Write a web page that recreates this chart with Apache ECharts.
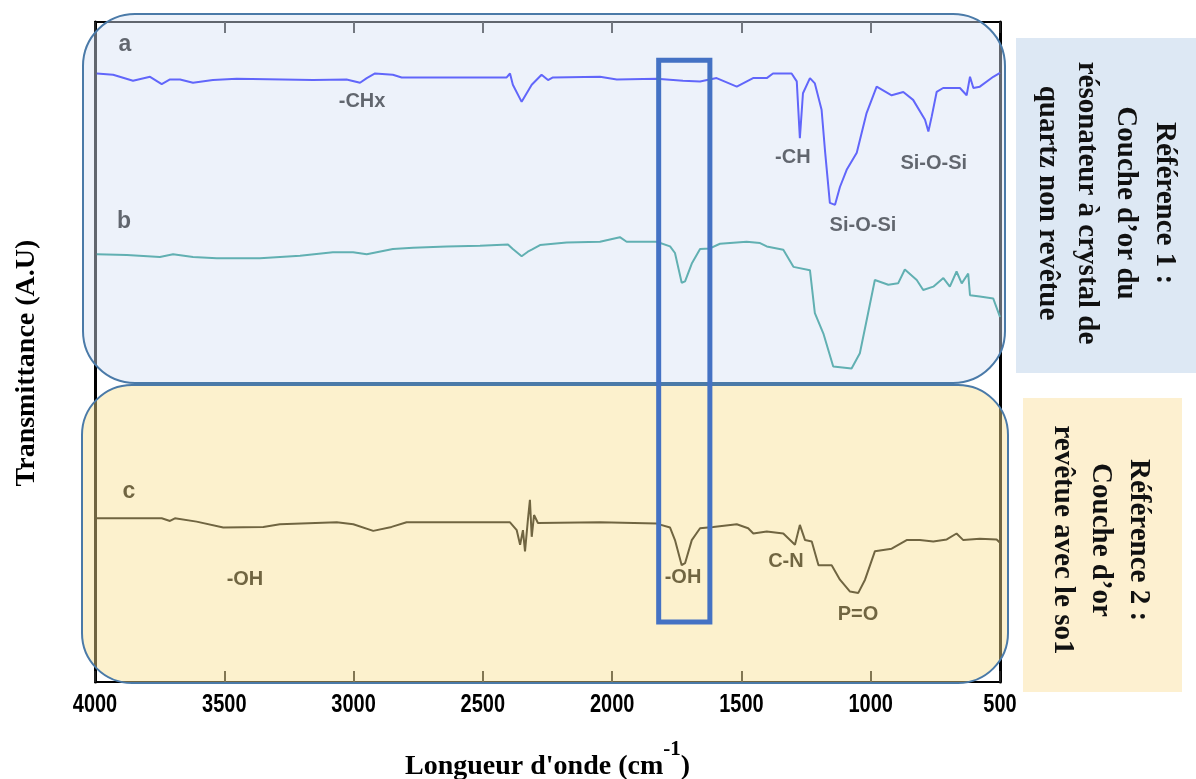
<!DOCTYPE html>
<html><head><meta charset="utf-8">
<script src="https://cdn.jsdelivr.net/npm/echarts@6/dist/echarts.min.js"></script>
<style>html,body{margin:0;padding:0;background:#fff}#c{width:1196px;height:779px}</style>
</head><body><div id="c"></div><script>
// ---- data (wavenumber cm-1, transmittance A.U.) ----
const xTicks = [4000, 3500, 3000, 2500, 2000, 1500, 1000, 500];
const wnA = [3993,3930,3853,3787,3742,3710,3671,3621,3544,3452,3157,3027,2975,2949,2917,2848,2814,2408,2395,2384,2350,2311,2273,2248,2229,2047,1982,1828,1726,1660,1596,1518,1455,1402,1378,1306,1286,1274,1267,1262,1235,1216,1190,1177,1158,1138,1119,1093,1054,1016,977,919,874,836,790,777,764,745,720,655,629,616,603,578,526,500];
const tA  = [92.2,92.0,91.1,91.7,90.6,91.3,91.3,90.8,91.2,91.4,91.2,91.3,90.8,91.5,92.2,92.0,91.6,91.6,92.2,90.5,87.9,90.5,92.0,91.2,91.6,91.7,91.3,91.4,91.1,91.0,91.5,90.2,91.5,91.5,92.2,92.2,91.0,82.4,82.4,89.2,91.5,90.7,86.7,80.6,72.6,72.3,75.0,77.6,80.2,86.2,90.2,88.9,89.4,88.2,85.2,83.4,85.7,89.4,90.0,90.0,88.9,91.7,90.0,90.2,91.7,92.3];
const wnB = [3993,3877,3749,3698,3621,3529,3362,3207,3080,3002,2949,2848,2770,2640,2511,2403,2384,2350,2326,2311,2279,2176,2047,1970,1944,1828,1776,1757,1731,1718,1692,1660,1622,1583,1480,1428,1402,1338,1299,1235,1216,1183,1145,1074,1042,1010,984,932,894,868,822,797,758,719,694,668,648,623,616,578,526,500];
const tB  = [64.8,64.7,64.4,64.8,64.4,64.2,64.2,64.6,65.1,65.1,64.8,65.6,65.8,66.0,66.1,66.3,65.6,64.5,65.2,65.5,66.2,66.6,66.7,67.4,66.7,66.7,66.0,65.0,60.5,60.7,63.4,65.6,65.7,66.4,66.7,66.5,66.0,65.5,62.9,62.4,55.9,52.8,47.8,47.5,49.8,55.9,60.9,60.2,60.4,62.5,60.9,59.4,59.9,61.2,59.9,62.2,60.4,61.9,58.6,58.4,58.1,55.3];
const wnC = [3993,3742,3710,3691,3607,3504,3349,3285,3065,3001,2924,2853,2795,2395,2369,2356,2345,2337,2326,2318,2311,2302,2287,2047,1828,1776,1757,1731,1718,1692,1660,1609,1518,1474,1454,1402,1338,1293,1274,1254,1228,1202,1151,1119,1080,1048,1022,984,919,861,810,758,706,668,642,578,513,500];
const tC  = [24.8,24.8,24.4,24.8,24.3,23.4,23.5,23.9,24.2,23.9,22.9,23.5,24.2,24.2,23.0,20.8,23.0,19.8,24.5,27.6,22.0,25.3,24.1,24.2,24.0,23.4,21.5,17.7,18.0,21.5,23.3,23.5,23.9,23.3,22.5,22.8,22.5,20.8,23.8,21.5,21.3,17.7,17.7,15.5,13.7,13.5,15.5,19.8,20.2,21.5,21.5,21.3,21.6,22.5,21.5,21.7,21.6,21.1];
const labelTexts = ['a','b','c','-CHx','-CH','Si-O-Si','Si-O-Si','-OH','-OH','C-N','P=O'];
const labelWn    = [3884,3888,3869,2967,1301,756,1030,3420,1726,1328,1049];
const labelT     = [96.5,69.7,28.8,87.9,79.5,78.5,69.1,15.5,15.8,18.3,10.3];
const highlightWn = [1820, 1622];
const highlightT  = [94.2, 9.1];
const box1Text = 'Référence 1 :\nCouche d’or du\nrésonateur à crystal de\nquartz non revêtue';
const box2Text = 'Référence 2 :\nCouche d’or\nrevêtue avec le so1';
const yTitle = 'Transmittance (A.U)';

const zip = (w, t) => w.map((v, i) => [v, t[i]]);
const chart = echarts.init(document.getElementById('c'));
const axisCommon = {
  type: 'value', min: 500, max: 4000, interval: 500, inverse: true,
  splitLine: {show: false},
  axisLabel: {show: false},
  axisLine: {show: true, onZero: false, lineStyle: {color: '#000', width: 2}},
  axisTick: {show: true, inside: true, length: 11, lineStyle: {color: '#222', width: 2}}
};
chart.setOption({
  animation: false,
  grid: {left: 95, right: 196, top: 22, bottom: 97, containLabel: false, outerBoundsMode: 'none'},
  xAxis: [
    Object.assign({}, axisCommon, {position: 'bottom',
      name: '{a|Longueur d\'onde (cm}{s|-1}{a|)}', nameLocation: 'middle', nameGap: 57,
      nameTextStyle: {rich: {
        a: {fontFamily: '"Liberation Serif", "Times New Roman", serif', fontWeight: 'bold', fontSize: 28, color: '#000', lineHeight: 42, verticalAlign: 'bottom'},
        s: {fontFamily: '"Liberation Serif", "Times New Roman", serif', fontWeight: 'bold', fontSize: 21, color: '#000', lineHeight: 42, verticalAlign: 'top'}
      }}
    }),
    Object.assign({}, axisCommon, {position: 'top'})
  ],
  yAxis: [
    {type: 'value', min: 0, max: 100, position: 'left', splitLine: {show: false}, axisTick: {show: false}, axisLabel: {show: false},
      axisLine: {show: true, lineStyle: {color: '#000', width: 3}}},
    {type: 'value', min: 0, max: 100, position: 'right', splitLine: {show: false}, axisTick: {show: false}, axisLabel: {show: false},
      axisLine: {show: true, lineStyle: {color: '#000', width: 3}}}
  ],
  series: [
    {name: 'a', type: 'line', showSymbol: false, data: zip(wnA, tA), lineStyle: {color: '#0000ff', width: 2}},
    {name: 'b', type: 'line', showSymbol: false, data: zip(wnB, tB), lineStyle: {color: '#00877c', width: 2}},
    {name: 'c', type: 'line', showSymbol: false, data: zip(wnC, tC), lineStyle: {color: '#000000', width: 2}}
  ]
});

const px = (w, t) => chart.convertToPixel({gridIndex: 0}, [w, t]);
const graphics = [];
// condensed tick labels placed at the axis ticks
xTicks.forEach(w => {
  const p = px(w, 0);
  graphics.push({type: 'text', x: p[0], y: p[1] + 23, scaleX: 0.8, z: 10, silent: true,
    style: {text: String(w), fill: '#000', font: 'bold 25px "Liberation Sans", Arial',
      textAlign: 'center', textVerticalAlign: 'middle', verticalAlign: 'middle', align: 'center'}});
});
labelTexts.forEach((txt, i) => {
  const p = px(labelWn[i], labelT[i]);
  const big = txt.length === 1;
  graphics.push({type: 'text', x: p[0], y: p[1], z: 10, silent: true,
    style: {text: txt, fill: '#000', font: 'bold ' + (big ? 23 : 20) + 'px "Liberation Sans", Arial',
      textAlign: 'center', textVerticalAlign: 'middle', verticalAlign: 'middle', align: 'center'}});
});
// translucent rounded panels drawn over the plot
graphics.push({type: 'rect', z: 50, silent: true, shape: {x: 83, y: 14, width: 922, height: 369, r: 52},
  style: {fill: 'rgba(215,226,244,0.45)', stroke: '#4a7aa8', lineWidth: 2}});
graphics.push({type: 'rect', z: 50, silent: true, shape: {x: 82, y: 385, width: 926, height: 298, r: 50},
  style: {fill: 'rgba(248,224,145,0.45)', stroke: '#4a7aa8', lineWidth: 2}});
// highlight box
const h1 = px(highlightWn[0], highlightT[0]), h2 = px(highlightWn[1], highlightT[1]);
graphics.push({type: 'rect', z: 60, silent: true,
  shape: {x: h1[0], y: h1[1], width: h2[0] - h1[0], height: h2[1] - h1[1]},
  style: {fill: 'none', stroke: '#4472c4', lineWidth: 5}});
// right side boxes
graphics.push({type: 'rect', z: 20, silent: true, shape: {x: 1016, y: 38, width: 180, height: 335}, style: {fill: '#dde8f4'}});
graphics.push({type: 'rect', z: 20, silent: true, shape: {x: 1023, y: 398, width: 159, height: 294}, style: {fill: '#fdf0d0'}});
graphics.push({type: 'text', z: 21, silent: true, x: 1106, y: 203, rotation: -Math.PI / 2,
  style: {text: box1Text, fill: '#111', font: 'bold 29px "Liberation Serif", "Times New Roman", serif',
    lineHeight: 39, textAlign: 'center', textVerticalAlign: 'middle', verticalAlign: 'middle', align: 'center'}});
graphics.push({type: 'text', z: 21, silent: true, x: 1100, y: 540, rotation: -Math.PI / 2,
  style: {text: box2Text, fill: '#111', font: 'bold 29px "Liberation Serif", "Times New Roman", serif',
    lineHeight: 38, textAlign: 'center', textVerticalAlign: 'middle', verticalAlign: 'middle', align: 'center'}});
// y-axis title
graphics.push({type: 'text', z: 21, silent: true, x: 27, y: 363, rotation: Math.PI / 2,
  style: {text: yTitle, fill: '#000', font: 'bold 28px "Liberation Serif", "Times New Roman", serif',
    textAlign: 'center', textVerticalAlign: 'middle', verticalAlign: 'middle', align: 'center'}});
chart.setOption({graphic: {elements: graphics}});
</script></body></html>
